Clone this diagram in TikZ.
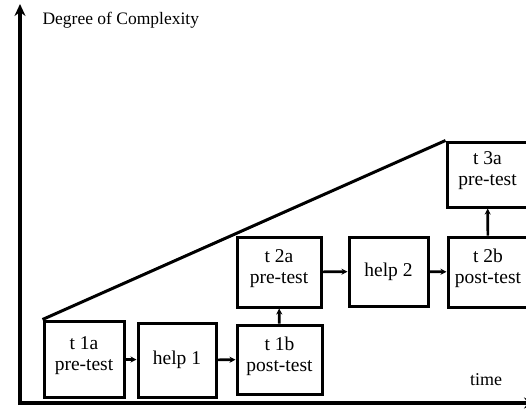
\documentclass[tikz,border=0pt]{standalone}
\usepackage{fontspec}
\setmainfont{Liberation Serif}
\usetikzlibrary{arrows.meta}

\newcommand{\lowpad}{\\[-10pt]\mbox{}}

\begin{document}
\begin{tikzpicture}[x=1pt,y=-1pt,
    box/.style={draw, line width=3pt, align=center, inner sep=0pt, font=\fontsize{19.5}{21}\selectfont},
    arr/.style={line width=2.6pt, -{Stealth[length=6pt,width=6pt]}},
    axis/.style={line width=4pt, -{Stealth[length=12pt,width=11pt]}}]
        \useasboundingbox (0,0) rectangle (526,415);
        \clip (0,0) rectangle (526,415);
        % axes
        \coordinate (origin) at (20,403);
        \coordinate (ytop) at (20,4);
        \coordinate (xend) at (536,403);
        \draw [axis] ([yshift=-2pt]origin) -- (ytop);
        \draw [axis] ([xshift=-2pt]origin) -- (xend);
        \node [anchor=west, font=\fontsize{17.5}{17.5}\selectfont] (ylabel) at (39,20) {Degree of Complexity};
        \node [font=\fontsize{18}{18}\selectfont] (tlabel) at (486,380) {time};
        % first cycle
        \node [box, minimum width=80pt, minimum height=76pt] (t1a) at (84,359) {t 1a\\pre-test\lowpad};
        \node [box, minimum width=78pt, minimum height=74pt] (help1) at (177,360) {help 1};
        \node [box, minimum width=85pt, minimum height=69pt] (t1b) at (279.5,359.5) {t 1b\\post-test\lowpad};
        % second cycle
        \node [box, minimum width=84pt, minimum height=70pt] (t2a) at (279,272) {t 2a\\pre-test\lowpad};
        \node [box, minimum width=79pt, minimum height=69pt] (help2) at (388.5,271.5) {help 2};
        \node [box, minimum width=80pt, minimum height=70pt] (t2b) at (488,272) {t 2b\\post-test\lowpad};
        % third cycle
        \node [box, minimum width=81pt, minimum height=65pt] (t3a) at (487.5,174.5) {t 3a\\pre-test\lowpad};
        \draw [arr] (t1a) -- (help1);     % RIGHT
        \draw [arr] (help1) -- (t1b);     % RIGHT
        \draw [arr] (t1b) -- (t2a);       % UP
        \draw [arr] (t2a) -- (help2);     % RIGHT
        \draw [arr] (help2) -- (t2b);     % RIGHT
        \draw [arr] (t2b) -- (t3a);       % UP
        \draw [line width=3pt] (t1a.north west) -- (t3a.north west);
\end{tikzpicture}
\end{document}
